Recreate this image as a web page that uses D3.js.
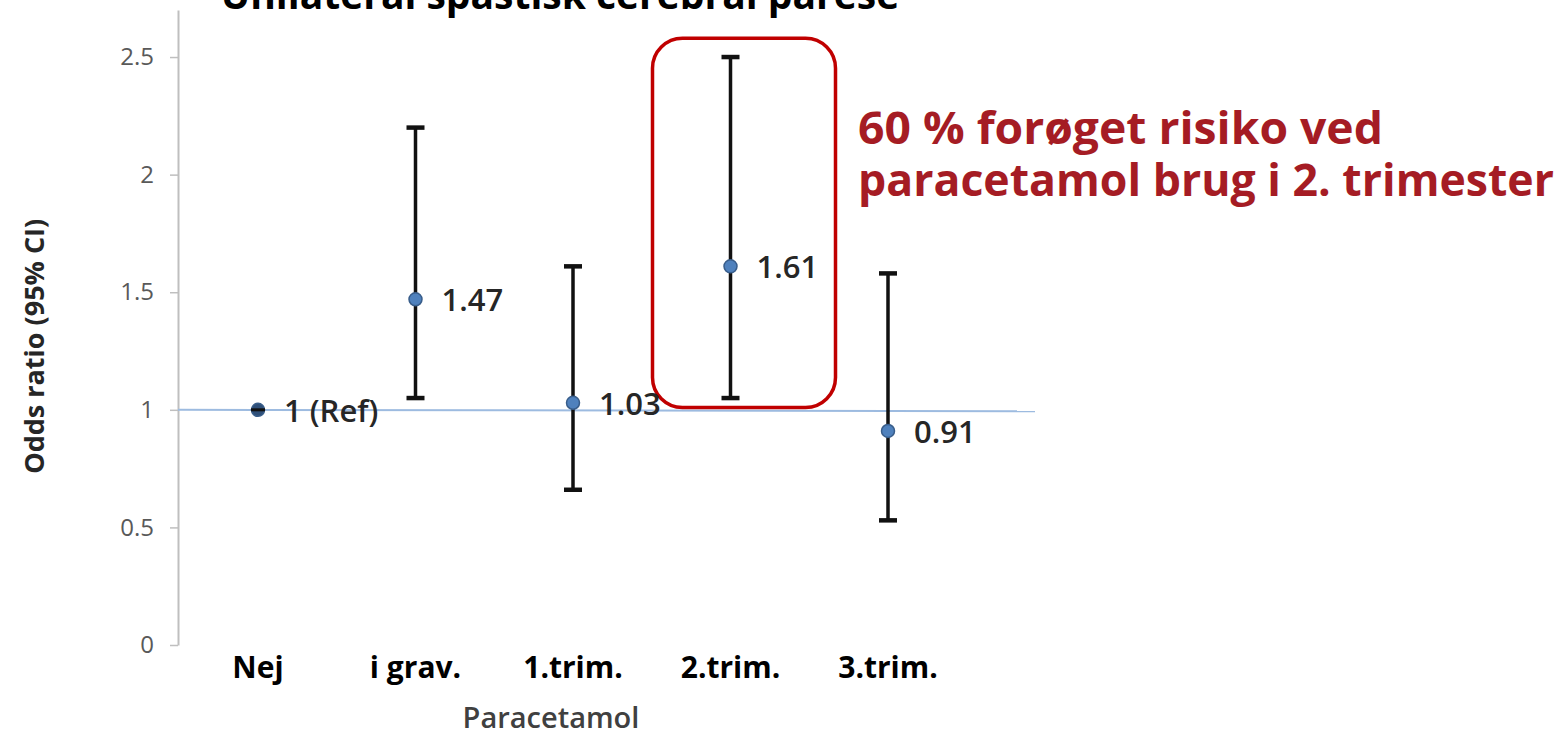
<!DOCTYPE html>
<html>
<head>
<meta charset="utf-8">
<script src="https://cdn.jsdelivr.net/npm/d3@7"></script>
<style>
  html, body { margin: 0; padding: 0; background: #fff; }
  svg { display: block; font-family: 'Open Sans', 'Noto Sans', sans-serif; }
</style>
</head>
<body>
<div id="chart"></div>
<script>
const categories = ['Nej', 'i grav.', '1.trim.', '2.trim.', '3.trim.'];
const oddsRatio = [1, 1.47, 1.03, 1.61, 0.91];
const ciLower = [1, 1.05, 0.66, 1.05, 0.53];
const ciUpper = [1, 2.2, 1.61, 2.5, 1.58];
const pointLabels = ['1 (Ref)', '1.47', '1.03', '1.61', '0.91'];
const yTicks = [0, 0.5, 1, 1.5, 2, 2.5];
const yTickLabels = ['0', '0.5', '1', '1.5', '2', '2.5'];
const title = 'Unilateral spastisk cerebral parese';
const yTitle = 'Odds ratio (95% CI)';
const xTitle = 'Paracetamol';
const noteLines = ['60 % forøget risiko ved', 'paracetamol brug i 2. trimester'];
const highlightCategory = '2.trim.';

const width = 1564;
const height = 737;
const axisX = 178;

const svg = d3.select('#chart')
  .append('svg')
  .attr('width', width)
  .attr('height', height);

const x = d3.scalePoint().domain(categories).range([258, 888]);
const y = d3.scaleLinear().domain([0, 2.7]).range([645, 10]);

// title, cut off at the top edge like the source
svg.append('text')
  .attr('x', 560)
  .attr('y', 9)
  .attr('text-anchor', 'middle')
  .style('font-size', '39px')
  .style('font-weight', 700)
  .attr('fill', '#000')
  .text(title);

// y axis
const yAxis = svg.append('g')
  .attr('transform', `translate(${axisX},0)`)
  .call(d3.axisLeft(y).tickValues(yTicks)
    .tickFormat((d, i) => yTickLabels[i])
    .tickSize(8).tickSizeOuter(0).tickPadding(16));
yAxis.select('.domain').attr('stroke', '#bfbfbf').attr('stroke-width', 2);
yAxis.selectAll('.tick line').attr('stroke', '#bfbfbf').attr('stroke-width', 1.5);
yAxis.selectAll('.tick text')
  .attr('fill', '#595959')
  .style('font-size', '24px')
  .style('font-family', "'Open Sans', sans-serif");

svg.append('text')
  .attr('transform', `translate(44,${y(1.27)}) rotate(-90)`)
  .attr('text-anchor', 'middle')
  .style('font-size', '27px')
  .style('font-weight', 700)
  .attr('fill', '#262626')
  .text(yTitle);

// reference line at OR = 1
svg.append('line')
  .attr('x1', axisX)
  .attr('x2', 1035)
  .attr('y1', y(1))
  .attr('y2', y(0.994))
  .attr('stroke', '#9dbbe0')
  .attr('stroke-width', 2);

// highlight box
const hx = x(highlightCategory);
svg.append('rect')
  .attr('x', hx - 78)
  .attr('y', y(2.58))
  .attr('width', 183)
  .attr('height', y(1.01) - y(2.58))
  .attr('rx', 30)
  .attr('fill', 'none')
  .attr('stroke', '#c00000')
  .attr('stroke-width', 3.5);

const data = categories.map((c, i) => ({
  cat: c, or: oddsRatio[i], lo: ciLower[i], hi: ciUpper[i], label: pointLabels[i]
}));

// error bars
const bars = svg.append('g');
bars.selectAll('.whisker')
  .data(data)
  .enter()
  .append('line')
  .attr('class', 'whisker')
  .attr('x1', (d) => x(d.cat))
  .attr('x2', (d) => x(d.cat))
  .attr('y1', (d) => y(d.lo))
  .attr('y2', (d) => y(d.hi))
  .attr('stroke', '#111')
  .attr('stroke-width', 3.5);

['lo', 'hi'].forEach((k) => {
  bars.selectAll('.cap-' + k)
    .data(data.filter((d) => d.lo !== d.hi))
    .enter()
    .append('line')
    .attr('x1', (d) => x(d.cat) - 9)
    .attr('x2', (d) => x(d.cat) + 9)
    .attr('y1', (d) => y(d[k]))
    .attr('y2', (d) => y(d[k]))
    .attr('stroke', '#111')
    .attr('stroke-width', 4.5);
});

// points
svg.selectAll('.dot')
  .data(data)
  .enter()
  .append('circle')
  .attr('class', 'dot')
  .attr('cx', (d) => x(d.cat))
  .attr('cy', (d) => y(d.or))
  .attr('r', 6.5)
  .attr('fill', (d) => d.lo === d.hi ? '#2f4f78' : '#4f81bd')
  .attr('stroke', '#385d8a')
  .attr('stroke-width', 1.5);

// reference point has a flat cap through it
svg.selectAll('.refcap')
  .data(data.filter((d) => d.lo === d.hi))
  .enter()
  .append('line')
  .attr('x1', (d) => x(d.cat) - 7)
  .attr('x2', (d) => x(d.cat) + 7)
  .attr('y1', (d) => y(d.or))
  .attr('y2', (d) => y(d.or))
  .attr('stroke', '#111')
  .attr('stroke-width', 3);

// point labels
svg.selectAll('.plabel')
  .data(data)
  .enter()
  .append('text')
  .attr('x', (d) => x(d.cat) + 26)
  .attr('y', (d) => y(d.or) + 12)
  .style('font-size', '31px')
  .style('font-weight', 600)
  .attr('fill', '#262626')
  .text((d) => d.label);

// category labels
svg.selectAll('.clabel')
  .data(categories)
  .enter()
  .append('text')
  .attr('x', (d) => x(d))
  .attr('y', 678)
  .attr('text-anchor', 'middle')
  .style('font-size', '30px')
  .style('font-weight', 700)
  .attr('fill', '#000')
  .text((d) => d);

svg.append('text')
  .attr('x', 551)
  .attr('y', 728)
  .attr('text-anchor', 'middle')
  .style('font-size', '29px')
  .style('font-weight', 600)
  .attr('fill', '#404040')
  .text(xTitle);

// annotation
svg.selectAll('.note')
  .data(noteLines)
  .enter()
  .append('text')
  .attr('x', 858)
  .attr('y', (d, i) => 144 + i * 52)
  .style('font-size', '45px')
  .style('font-weight', 700)
  .attr('fill', '#a51c24')
  .attr('textLength', (d, i) => i === 0 ? 525 : 696)
  .attr('lengthAdjust', 'spacingAndGlyphs')
  .text((d) => d);
</script>
</body>
</html>
